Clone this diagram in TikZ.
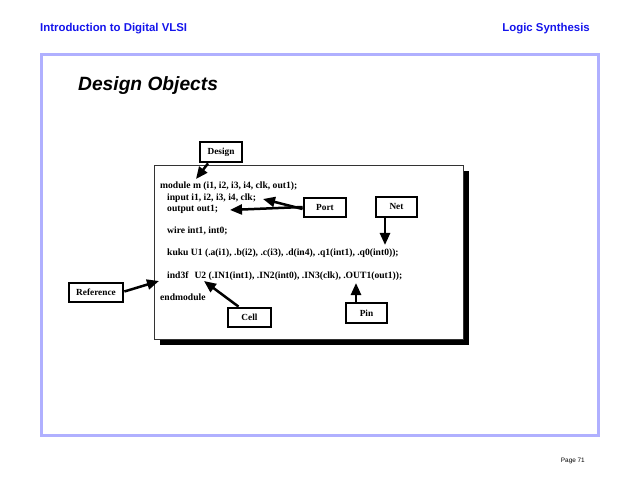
\documentclass[tikz,border=0pt]{standalone}
\usepackage{fontspec}
\setmainfont{Liberation Serif}
\newfontfamily\arial{Liberation Sans}
\usetikzlibrary{arrows.meta}
\definecolor{hdrblue}{RGB}{20,20,235}
\definecolor{framecol}{RGB}{176,176,255}
\tikzset{
  lbl/.style={draw=black, line width=2.8pt, fill=white, inner sep=0pt,
    font=\fontsize{9.3}{10}\selectfont\bfseries},
  code/.style={anchor=base west, inner sep=0pt,
    font=\fontsize{9.6}{11}\selectfont\bfseries},
  ptr/.style={line width=2.5pt, -{Triangle[length=12pt,width=10pt]}},
  hdr/.style={inner sep=0pt, text=hdrblue, font=\arial\fontsize{11.4}{13}\selectfont\bfseries},
}
\begin{document}
\begin{tikzpicture}[x=1pt,y=-1pt]
\useasboundingbox (0,0) rectangle (638,492);
% header
\node[hdr, anchor=west] (hl) at (40,29) {Introduction to Digital VLSI};
\node[hdr, anchor=east] (hr) at (590,29) {Logic Synthesis};
% frame
\draw[framecol, line width=3pt] (41,55) rectangle (598,435);
\node[anchor=west, inner sep=0pt, font=\arial\fontsize{19.2}{22}\selectfont\bfseries\itshape] (title) at (78,86) {Design Objects};
\node[anchor=east, inner sep=0pt, font=\arial\fontsize{6.4}{8}\selectfont] (page) at (585,461) {Page 71};
% main box with shadow
\fill[black] (160,171) rectangle (469,345);
\draw[fill=white, line width=0.8pt, draw=black!80] (154,165) rectangle (463,339);
% code
\node[code] (l1) at (160,189) {module m (i1, i2, i3, i4, clk, out1);};
\node[code] (l2) at (167,201) {input i1, i2, i3, i4, clk;};
\node[code] (l3) at (167,212) {output out1;};
\node[code] (l4) at (167,234) {wire int1, int0;};
\node[code] (l5) at (167,256) {kuku U1 (.a(i1), .b(i2), .c(i3), .d(in4), .q1(int1), .q0(int0));};
\node[code] (l6) at (167,278) {ind3f\hspace{6pt}U2 (.IN1(int1), .IN2(int0), .IN3(clk), .OUT1(out1));};
\node[code] (l7) at (160,301) {endmodule};
% labels
\node[lbl, minimum width=42pt, minimum height=20pt] (design) at (221,152) {Design};
\node[lbl, minimum width=42pt, minimum height=19pt] (port) at (325,207.5) {Port};
\node[lbl, minimum width=41pt, minimum height=20pt] (net) at (396.5,207) {Net};
\node[lbl, minimum width=54pt, minimum height=19pt] (ref) at (96,292.5) {Reference};
\node[lbl, minimum width=43pt, minimum height=19pt] (cell) at (249.5,317.5) {Cell};
\node[lbl, minimum width=41pt, minimum height=20pt] (pin) at (366.5,313) {Pin};
% arrow targets
\coordinate (tdesign) at (196,179);
\coordinate (tin) at (263,199);
\coordinate (tout) at (230,210);
\coordinate (tnet) at (385,245);
\coordinate (tref) at (159,281);
\coordinate (tcell) at (204,281);
\coordinate (tpin) at (356,283);
% arrows
\draw[ptr] ([xshift=-13pt]design.south) -- (tdesign);
\draw[ptr] ([yshift=-1.5pt]port.west) -- (tin);
\draw[ptr] ([yshift=0.5pt]port.west) -- (tout);
\draw[ptr] ([xshift=-11.5pt]net.south) -- (tnet);
\draw[ptr] ([yshift=1pt]ref.east) -- (tref);
\draw[ptr] ([xshift=-11pt]cell.north) -- (tcell);
\draw[ptr] ([xshift=-10.5pt]pin.north) -- (tpin);
\end{tikzpicture}
\end{document}
